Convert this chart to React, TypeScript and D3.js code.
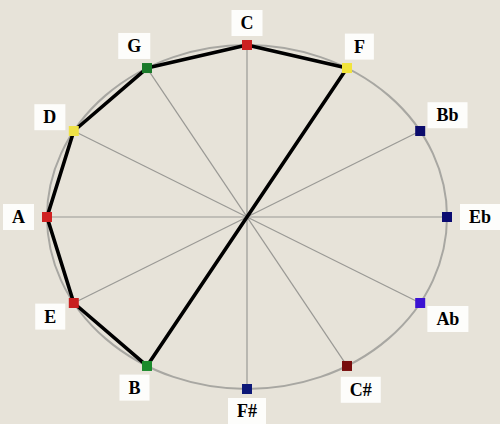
import React, { useEffect, useRef } from 'react';
import * as d3 from 'd3';

// notes clockwise from the top (circle of fourths)
const notes = ['C', 'F', 'Bb', 'Eb', 'Ab', 'C#', 'F#', 'B', 'E', 'A', 'D', 'G'];
const noteColors = ['#cc2020', '#f2e43a', '#0b0b6c', '#0b0b72', '#3b12d2', '#780c0c', '#0d1878', '#1b8a2b', '#c81f1f', '#d02222', '#efe246', '#1a7a2a'];
// the closed black figure
const figure = ['F', 'C', 'G', 'D', 'A', 'E', 'B', 'F'];

function App() {
  const chartRef = useRef<SVGSVGElement | null>(null);

  useEffect(() => {
    const width = 500;
    const height = 424;
    const cx = 247;
    const cy = 217;
    const rx = 200;
    const ry = 172;

    const svg = d3.select(chartRef.current);
    svg.selectAll('*').remove();

    const angle = d3.scaleLinear().domain([0, notes.length]).range([0, 2 * Math.PI]);
    const xScale = d3.scaleLinear().domain([-1, 1]).range([cx - rx, cx + rx]);
    const yScale = d3.scaleLinear().domain([-1, 1]).range([cy + ry, cy - ry]);

    const pts = notes.map((n, i) => {
      const a = angle(i);
      return { name: n, a, x: xScale(Math.sin(a)), y: yScale(Math.cos(a)), color: noteColors[i] };
    });
    const byName = new Map(pts.map((p) => [p.name, p]));

    svg.append('rect').attr('width', width).attr('height', height).attr('fill', '#e7e3d9');

    // outer ring
    svg
      .append('ellipse')
      .attr('cx', cx)
      .attr('cy', cy)
      .attr('rx', rx)
      .attr('ry', ry)
      .attr('fill', 'none')
      .attr('stroke', '#a8a7a2')
      .attr('stroke-width', 2);

    // diameters
    svg
      .append('g')
      .selectAll('line')
      .data(pts.slice(0, 6))
      .enter()
      .append('line')
      .attr('x1', (d) => d.x)
      .attr('y1', (d) => d.y)
      .attr('x2', (d, i) => pts[i + 6].x)
      .attr('y2', (d, i) => pts[i + 6].y)
      .attr('stroke', '#9a9995')
      .attr('stroke-width', 1.2);

    const line = d3
      .line<string>()
      .x((n) => byName.get(n)!.x)
      .y((n) => byName.get(n)!.y);

    svg
      .append('path')
      .attr('d', line(figure))
      .attr('fill', 'none')
      .attr('stroke', '#000')
      .attr('stroke-width', 3.6)
      .attr('stroke-linejoin', 'round');

    // markers
    svg
      .append('g')
      .selectAll('rect')
      .data(pts)
      .enter()
      .append('rect')
      .attr('x', (d) => d.x - 5)
      .attr('y', (d) => d.y - 5)
      .attr('width', 10)
      .attr('height', 10)
      .attr('fill', (d) => d.color);

    // labels with white boxes
    const labels = svg.append('g');
    pts.forEach((p) => {
      const g = labels.append('g');
      const box = g.append('rect').attr('fill', '#fdfdfb');
      const t = g
        .append('text')
        .attr('text-anchor', 'middle')
        .attr('dominant-baseline', 'central')
        .style('font-family', '"Liberation Serif", "DejaVu Serif", serif')
        .style('font-weight', 'bold')
        .style('font-size', '18px')
        .text(p.name);
      const w = (t.node() as SVGTextElement).getComputedTextLength();
      const off = 22 + 0.5 * w * Math.abs(Math.sin(p.a));
      const lx = p.x + off * Math.sin(p.a);
      const ly = p.y - off * Math.cos(p.a);
      t.attr('x', lx).attr('y', ly);
      box
        .attr('x', lx - w / 2 - 9)
        .attr('y', ly - 13)
        .attr('width', w + 18)
        .attr('height', 26);
    });
  }, []);

  return (
    <svg
      ref={chartRef}
      width={500}
      height={424}
      style={{ position: 'absolute', left: 0, top: 0 }}
    />
  );
}

export default App;
